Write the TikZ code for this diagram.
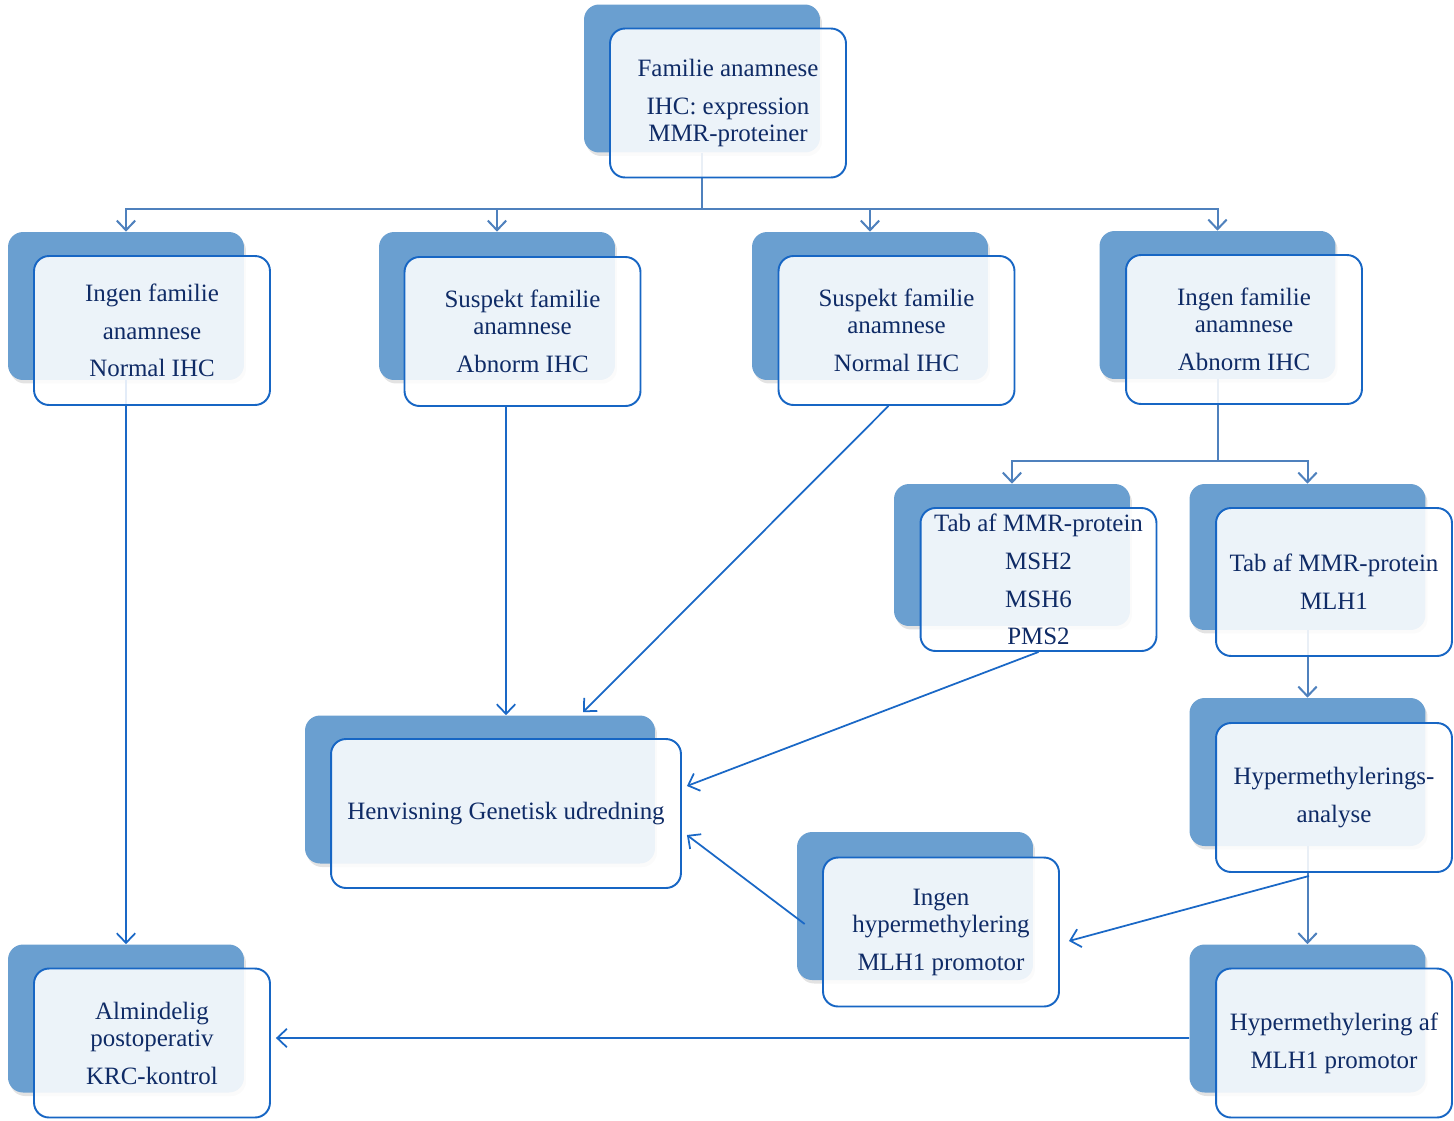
\documentclass[tikz,border=0pt]{standalone}
\usepackage{fontspec}
\setmainfont{Liberation Serif}
\usetikzlibrary{arrows.meta,calc,shadows}
\definecolor{backblue}{HTML}{6A9FD0}
\definecolor{edgeblue}{HTML}{1766C4}
\definecolor{linkblue}{HTML}{1A68C6}
\definecolor{treeblue}{HTML}{4F81BD}
\definecolor{txt}{HTML}{0F2B66}
\tikzset{
 backbox/.style={rounded corners=0.3cm, fill=backblue, draw=none, minimum width=4.72cm, minimum height=2.96cm, inner sep=0pt,
   drop shadow={opacity=0.22,shadow xshift=0.04cm,shadow yshift=-0.07cm}},
 frontbox/.style={rounded corners=0.3cm, draw=edgeblue, line width=1.1pt, fill=white, fill opacity=0.88, text opacity=1, text=txt,
   minimum width=4.72cm, minimum height=2.98cm, align=center, inner sep=0pt, font=\fontsize{14.2}{15.5}\selectfont},
 link/.style={draw=linkblue, line width=1pt, -{Straight Barb[length=5.5pt,width=10.5pt]}},
 tree/.style={draw=treeblue, line width=1.15pt},
 treearrow/.style={tree, -{Straight Barb[length=5.5pt,width=10.5pt]}},
}
\begin{document}
\begin{tikzpicture}[x=0.02cm,y=-0.02cm]
\useasboundingbox (0,0) rectangle (1454,1120);
% back boxes
\node[backbox] (Tb) at (702,78.5) {};
\node[backbox] (Ab) at (126,306) {};
\node[backbox] (Bb) at (497,306) {};
\node[backbox] (Cb) at (870,306) {};
\node[backbox] (Db) at (1217.5,305) {};
\node[backbox, minimum height=2.84cm] (Eb) at (1012,555) {};
\node[backbox, minimum height=2.92cm] (Fb) at (1307.5,557) {};
\node[backbox] (Gb) at (1307.5,772) {};
\node[backbox, minimum width=7cm] (Hb) at (480,789.5) {};
\node[backbox] (Ib) at (915,906) {};
\node[backbox] (Jb) at (126,1018.5) {};
\node[backbox] (Kb) at (1307.5,1018.5) {};
% connectors (below the translucent front boxes)
\draw[tree] (Tb.south) -- ++(0,56) coordinate (hub);
\draw[treearrow] (hub) -| (Ab.north);
\draw[treearrow] (hub) -| (Bb.north);
\draw[treearrow] (hub) -| (Cb.north);
\draw[treearrow] (hub) -| (Db.north);
\draw[tree] (Db.south) -- ++(0,82) coordinate (dhub);
\draw[treearrow] (dhub) -| (Eb.north);
\draw[treearrow] (dhub) -| (Fb.north);
\draw[treearrow] (Fb.south) -- (Gb.north);
\draw[treearrow] (Gb.south) -- (Kb.north);
\draw[link] (Ab.south) -- (Jb.north);
% front boxes
\node[frontbox] (T) at (728,103) {Familie anamnese\\[6pt]IHC: expression\\MMR-proteiner};
\node[frontbox] (A) at (152,330.5) {Ingen familie\\[6pt]anamnese\\[6pt]Normal IHC};
\node[frontbox] (B) at (522.5,331.5) {Suspekt familie\\anamnese\\[6pt]Abnorm IHC};
\node[frontbox] (C) at (896.5,330.5) {Suspekt familie\\anamnese\\[6pt]Normal IHC};
\node[frontbox] (D) at (1244,329.5) {Ingen familie\\anamnese\\[6pt]Abnorm IHC};
\node[frontbox, minimum height=2.86cm] (E) at (1038.5,579.5) {Tab af MMR-protein\\[6pt]MSH2\\[6pt]MSH6\\[6pt]PMS2};
\node[frontbox, minimum height=2.96cm] (F) at (1334,582) {Tab af MMR-protein\\[6pt]MLH1};
\node[frontbox] (G) at (1334,797.5) {Hypermethylerings-\\[6pt]analyse};
\node[frontbox, minimum width=7cm] (H) at (506,813.5) {Henvisning Genetisk udredning};
\node[frontbox] (I) at (941,932) {Ingen\\hypermethylering\\[6pt]MLH1 promotor};
\node[frontbox] (J) at (152,1043) {Almindelig\\postoperativ\\[6pt]KRC-kontrol};
\node[frontbox] (K) at (1334,1043) {Hypermethylering af\\[6pt]MLH1 promotor};
% links on top
\draw[link] (B.south -| H.north) -- (Hb.north -| H.north);
\draw[link] ($(C.south)+(-8,0)$) -- ($(Hb.north)+(103,-3)$);
\draw[link] (E.south) -- ($(H.east)+(5,-27.5)$);
\draw[link] ($(G.south)+(-25,3)$) -- ($(I.east)+(9,9)$);
\draw[link] ($(Ib.west)+(8,18)$) -- ($(H.east)+(5,21.5)$);
\draw[link] ($(Kb.west)+(0,19.5)$) -- ($(J.east)+(5,-5)$);
\end{tikzpicture}
\end{document}
